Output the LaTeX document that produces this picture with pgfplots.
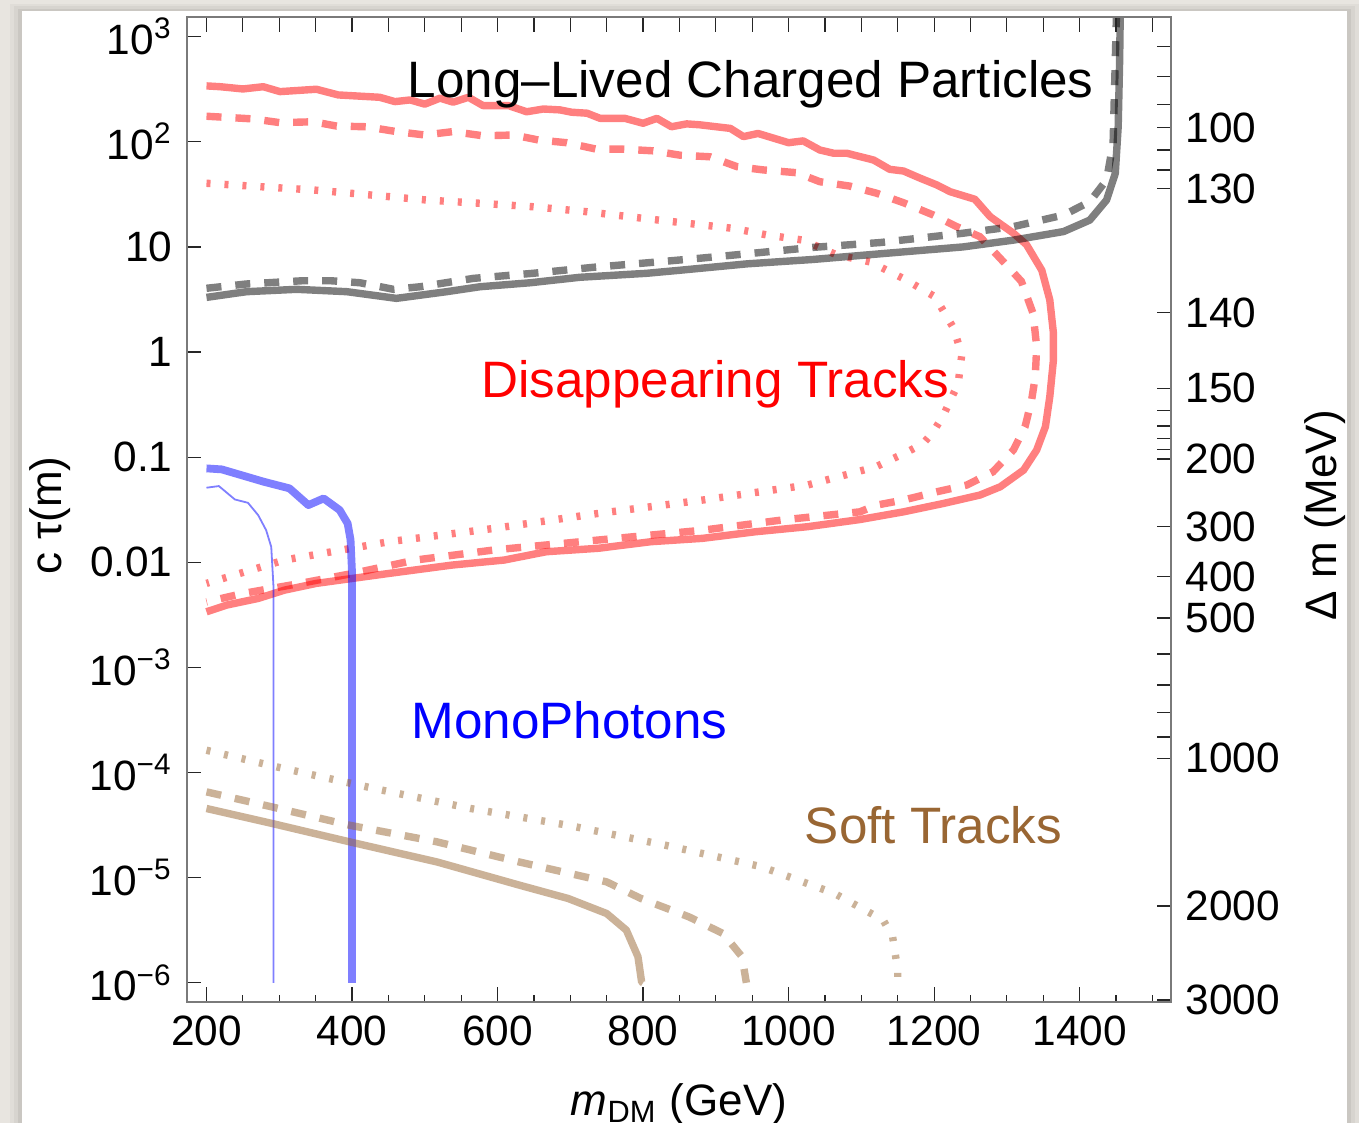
\documentclass[border=0pt]{standalone}
\usepackage{fontspec}
\setmainfont{Liberation Sans}
\usepackage{pgfplots}
\pgfplotsset{compat=1.18}

\definecolor{bgbeige}{HTML}{E8E5E0}
\definecolor{framegray}{HTML}{7A7A7A}
\definecolor{softbrown}{rgb}{0.6,0.4,0.2}

\newcommand{\tk}{\fontsize{10.6}{12}\selectfont}
\newcommand{\lb}{\fontsize{11}{13}\selectfont}
\newcommand{\an}{\fontsize{12.8}{15}\selectfont}

\pgfplotsset{
  boxframe/.style={
    at={(46.675pt,30.325pt)}, anchor=south west,
    scale only axis, width=246.15pt, height=246.175pt,
    xmin=172.8, xmax=1526,
    axis line style={framegray, line width=0.45pt},
    tick style={black!85, line width=0.3pt},
    tick align=inside,
    ticklabel style={font=\tk},
    label style={font=\lb},
  },
  sol/.style={line width=1.85pt, line join=round},
  dsh/.style={line width=1.85pt, dash pattern=on 3.75pt off 3.5pt},
  dot/.style={line width=1.85pt, dash pattern=on 1pt off 3.5pt},
}

\begin{document}
\begin{tikzpicture}
\path[use as bounding box] (0pt,0pt) rectangle (339.75pt,280.75pt);
\fill[bgbeige] (0pt,0pt) rectangle (339.75pt,280.75pt);
\fill[black,opacity=0.03] (2.6pt,0pt) rectangle (339.7pt,279.8pt);
\fill[black,opacity=0.04] (3.6pt,0pt) rectangle (338.7pt,279.2pt);
\fill[black,opacity=0.06] (4.6pt,0pt) rectangle (337.7pt,278.6pt);
\fill[white] (5.6pt,0pt) rectangle (336.7pt,278.0pt);

% main axis: c tau versus m_DM
\begin{axis}[boxframe,
  ymode=log, ymin=6.61e-7, ymax=1538,
  no markers,
  xtick pos=bottom, ytick pos=left,
  xtick={200,400,...,1400},
  xticklabels={200,400,600,800,1000,1200,1400},
  minor xtick={250,300,350,450,500,550,650,700,750,850,900,950,1050,1100,1150,1250,1300,1350,1450,1500},
  major tick length=3.6pt, minor tick length=1.75pt,
  ytick={1e-6,1e-5,1e-4,1e-3,1e-2,1e-1,1,10,100,1000},
  yticklabels={10\textsuperscript{−6},10\textsuperscript{−5},10\textsuperscript{−4},10\textsuperscript{−3},0.01,0.1,1,10,10\textsuperscript{2},10\textsuperscript{3}},
  yminorticks=false,
  xlabel={\textit{m}\textsubscript{DM} (GeV)},
  ylabel={c τ(m)},
  xlabel style={at={(axis description cs:0.5,-0.116)}, anchor=base},
  ylabel style={at={(axis description cs:-0.139,0.494)}, anchor=center},
]
% disappearing tracks
\addplot[red, draw opacity=0.5, sol] coordinates {
 (200,340) (219,334) (250,318) (278,334) (301,300) (351,316) (381,279) (438,265)
 (459,241) (480,250) (500,228) (521,260) (539,238) (560,265) (580,221) (615,221)
 (640,193) (663,205) (686,201) (702,191) (723,187) (741,167) (775,167) (800,150)
 (819,167) (839,139) (860,148) (878,145) (920,134) (938,112) (958,120) (1000,98)
 (1020,102) (1043,83.5) (1062,77.8) (1080,77.8) (1117,67) (1139,54.7) (1158,52.7)
 (1181,45) (1204,38.8) (1222,33.5) (1256,28.4) (1277,19.4) (1309,13.5) (1327,10.5)
 (1348,6.0) (1359,3.13) (1364,1.51) (1364,0.84) (1359,0.376) (1353,0.195)
 (1341,0.117) (1323,0.0754) (1291,0.0523) (1263,0.0436) (1213,0.0363) (1158,0.0302)
 (1098,0.0255) (1026,0.0218) (954,0.0195) (882,0.0169) (811,0.0157) (739,0.0136)
 (667,0.0126) (609,0.0105) (537,0.0094) (451,0.00784) (401,0.00703) (351,0.0063)
 (307,0.00543) (271,0.00453) (228,0.00392) (200,0.00338)};
\addplot[red, draw opacity=0.5, dsh] coordinates {
 (200,175) (264,165) (301,152) (347,155) (379,141) (420,139) (461,125) (500,116)
 (539,125) (580,114) (622,116) (656,104) (695,98) (736,85) (773,85) (814,82)
 (851,74.5) (892,72) (929,58) (965,54) (1011,50.8) (1043,41.7) (1084,37.9)
 (1121,32.4) (1158,26.3) (1199,20.1) (1231,15.6) (1263,12.5) (1293,7.5) (1320,4.7)
 (1336,2.33) (1341,1.12) (1339,0.58) (1334,0.349) (1325,0.195) (1309,0.117)
 (1281,0.0727) (1245,0.0543) (1204,0.0469) (1158,0.0391) (1121,0.035) (1098,0.0302)
 (990,0.0252) (882,0.0202) (739,0.0163) (595,0.0131) (487,0.0105) (401,0.00784)
 (329,0.0063) (250,0.00505) (200,0.0042)};
\addplot[red, draw opacity=0.5, dot] coordinates {
 (200,40.3) (274,37.4) (347,34.8) (425,31.2) (503,27.9) (576,26) (649,24.1)
 (723,21.6) (800,18.7) (860,16.8) (924,15.0) (970,13.0) (1020,11.6) (1066,8.4)
 (1112,7.2) (1158,5.0) (1201,3.36) (1227,1.68) (1238,0.935) (1233,0.50) (1213,0.252)
 (1199,0.175) (1185,0.135) (1163,0.112) (1139,0.0937) (1120,0.081) (1026,0.0543)
 (882,0.0391) (739,0.0292) (595,0.021) (451,0.0157) (307,0.0105) (200,0.0063)};
% long-lived charged particles
\addplot[black, draw opacity=0.5, sol] coordinates {
 (200,3.31) (255,3.75) (324,3.95) (393,3.75) (461,3.24) (530,3.75) (576,4.18)
 (645,4.56) (713,5.14) (805,5.61) (851,6.0) (943,6.9) (1034,7.6) (1126,8.6)
 (1240,10.0) (1309,11.6) (1378,14.0) (1414,18.0) (1437,27.9) (1449,50) (1453,139)
 (1455,600) (1456,2000)};
\addplot[black, draw opacity=0.5, dsh] coordinates {
 (200,4.04) (255,4.44) (333,4.77) (370,4.77) (411,4.56) (457,3.95) (494,4.18)
 (567,5.02) (649,5.61) (732,6.4) (810,7.1) (878,7.8) (943,8.6) (1034,9.9)
 (1126,11.0) (1240,13.5) (1309,15.6) (1378,20.1) (1414,26.9) (1437,43.4) (1446,97)
 (1449,600) (1451,2000)};
% monophotons
\addplot[blue, draw opacity=0.5, line width=1.95pt, line join=round] coordinates {
 (200,0.0782) (221,0.0765) (243,0.069) (279,0.0583) (314,0.0505) (340,0.035)
 (361,0.0405) (383,0.0314) (394,0.0234) (398,0.0163) (400,0.008) (400,1e-6)};
\addplot[blue, draw opacity=0.5, line width=0.45pt, line join=round] coordinates {
 (200,0.0512) (217,0.0531) (239,0.0396) (257,0.0368) (271,0.0281) (282,0.0202)
 (289,0.014) (292,0.006) (292,1e-6)};
% soft tracks
\addplot[softbrown, draw opacity=0.5, sol] coordinates {
 (200,4.55e-5) (290,3.28e-5) (397,2.19e-5) (517,1.41e-5) (630,8.49e-6) (697,6.34e-6)
 (750,4.56e-6) (777,3.17e-6) (793,1.77e-6) (798,1.02e-6) (800,1e-6)};
\addplot[softbrown, draw opacity=0.5, dsh] coordinates {
 (200,6.55e-5) (290,4.71e-5) (397,3.15e-5) (517,2.19e-5) (630,1.41e-5) (750,9.12e-6)
 (797,6.34e-6) (863,4.24e-6) (910,2.94e-6) (936,1.77e-6) (942,1e-6)};
\addplot[softbrown, draw opacity=0.5, dot] coordinates {
 (200,1.63e-4) (297,1.13e-4) (430,7.06e-5) (563,4.55e-5) (697,3.15e-5) (830,2.04e-5)
 (963,1.27e-5) (1063,7.08e-6) (1130,3.95e-6) (1143,2.74e-6) (1150,1.32e-6) (1150,1e-6)};

\node[anchor=base, font=\an] at (axis cs:948,261) {Long–Lived Charged Particles};
\node[anchor=base, font=\an, text=red] at (axis cs:899,0.373) {Disappearing Tracks};
\node[anchor=base, font=\an, text=blue] at (axis cs:699,2.12e-4) {MonoPhotons};
\node[anchor=base, font=\an, text=softbrown] at (axis cs:1199,2.13e-5) {Soft Tracks};
\end{axis}

% top ticks and the mass splitting scale on the right
\begin{axis}[boxframe,
  ymin=-6.182, ymax=3.187,
  xtick pos=top, ytick pos=right, yticklabel pos=right,
  xtick={200,250,...,1500}, xticklabels={},
  major tick length=3.7pt,
  ytick={-6.166,-5.271,-3.866,-3.663,-3.428,-3.169,-2.874,-2.531,-2.138,-1.662,-1.018,
         -0.926,-0.825,-0.704,-0.559,-0.345,0.374,1.554,1.732,1.922,2.134,2.357,2.619,2.905},
  yticklabels={3000,2000,1000,{},{},{},{},500,400,300,200,{},{},{},{},150,140,130,{},{},100,{},{},{}},
  ylabel={Δ m (MeV)},
  ylabel style={at={(axis description cs:1.156,0.494)}, anchor=center},
]
\end{axis}
\end{tikzpicture}
\end{document}
